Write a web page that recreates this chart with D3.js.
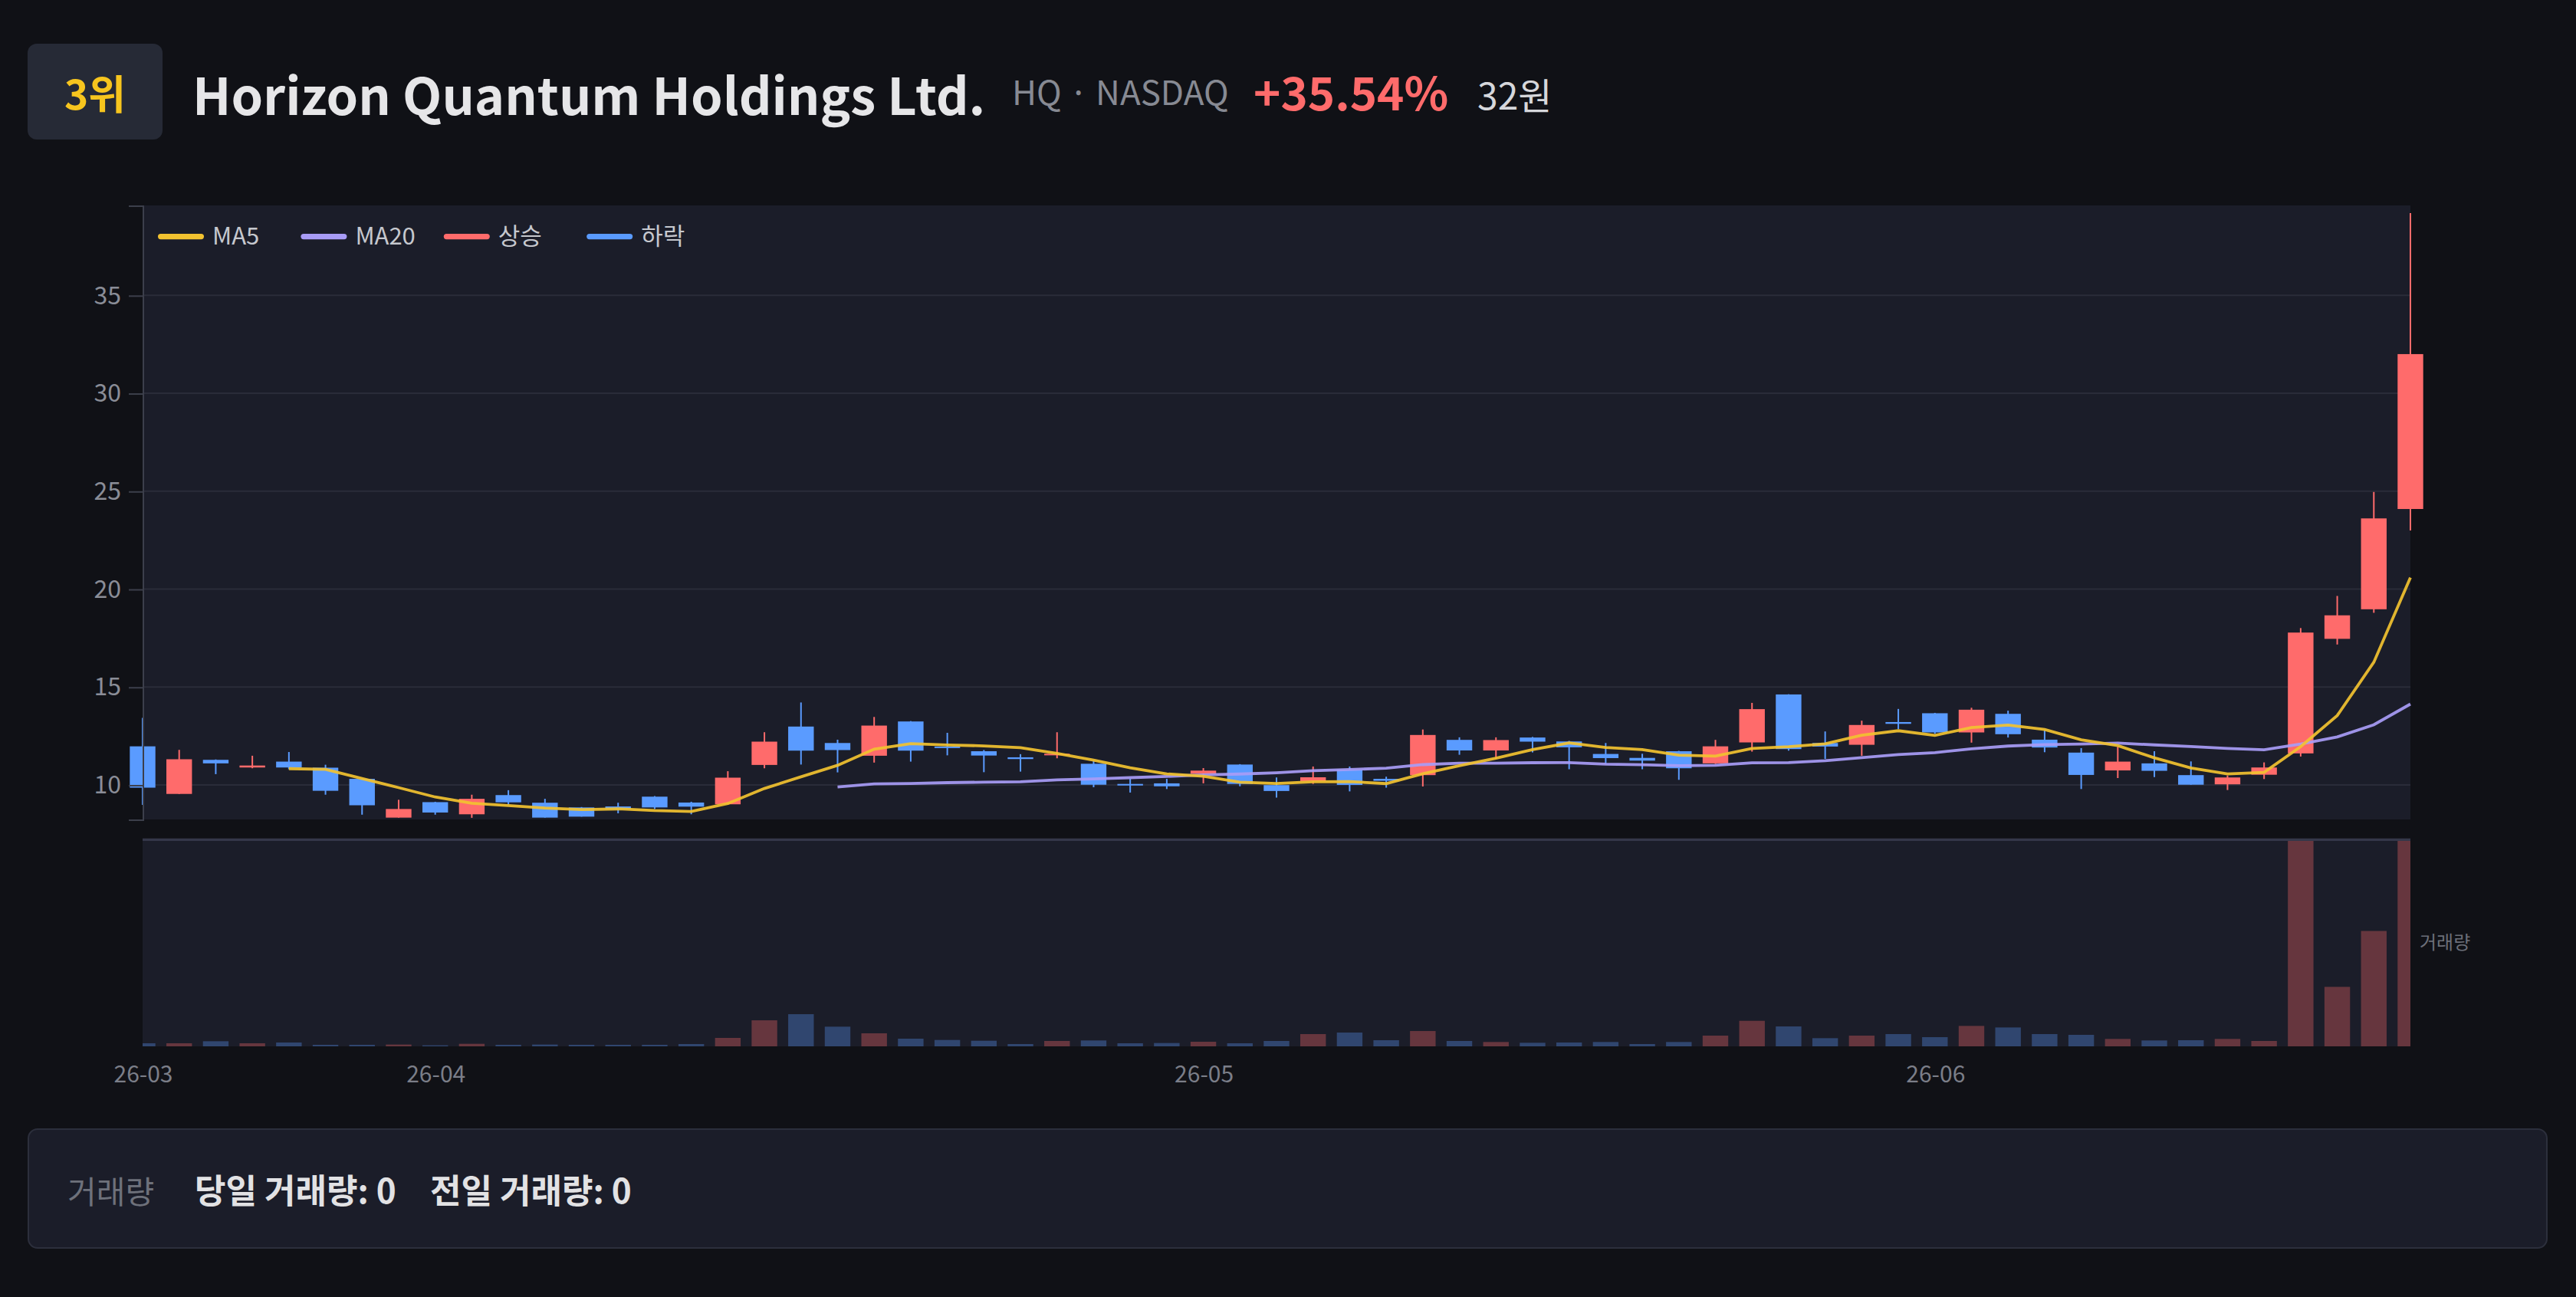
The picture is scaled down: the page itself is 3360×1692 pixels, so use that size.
<!DOCTYPE html>
<html>
<head>
<meta charset="utf-8">
<script src="https://cdn.jsdelivr.net/npm/d3@7"></script>
<style>
  html, body { margin: 0; padding: 0; background: #101116; }
  svg { display: block; font-family: "Noto Sans CJK KR", "Noto Sans", sans-serif; }
</style>
</head>
<body>
<svg id="chart" width="3360" height="1692" viewBox="0 0 1680 846"></svg>
<script>
// trading days shown on the chart
const dates = [
    "2026-03-20", "2026-03-23", "2026-03-24", "2026-03-25", "2026-03-26", "2026-03-27", "2026-03-30", "2026-03-31",
    "2026-04-01", "2026-04-02", "2026-04-06", "2026-04-07", "2026-04-08", "2026-04-09", "2026-04-10",
    "2026-04-13", "2026-04-14", "2026-04-15", "2026-04-16", "2026-04-17",
    "2026-04-20", "2026-04-21", "2026-04-22", "2026-04-23", "2026-04-24",
    "2026-04-27", "2026-04-28", "2026-04-29", "2026-04-30",
    "2026-05-01", "2026-05-04", "2026-05-05", "2026-05-06", "2026-05-07", "2026-05-08",
    "2026-05-11", "2026-05-12", "2026-05-13", "2026-05-14", "2026-05-15",
    "2026-05-18", "2026-05-19", "2026-05-20", "2026-05-21", "2026-05-22",
    "2026-05-26", "2026-05-27", "2026-05-28", "2026-05-29",
    "2026-06-01", "2026-06-02", "2026-06-03", "2026-06-04", "2026-06-05",
    "2026-06-08", "2026-06-09", "2026-06-10", "2026-06-11", "2026-06-12",
    "2026-06-15", "2026-06-16", "2026-06-17", "2026-06-18"
];
const openPrices = [
    11.97, 9.54, 11.28, 10.89, 11.19, 10.88, 10.31, 8.33, 9.12, 8.50, 9.48, 9.09, 8.85, 8.90, 9.40, 9.10,
    9.01, 11.02, 12.98, 12.14, 11.49, 13.24, 11.96, 11.72, 11.41, 11.52, 11.08, 10.05, 10.08, 10.57, 11.04, 9.99,
    10.18, 10.78, 10.31, 10.50, 12.30, 11.76, 12.42, 12.22, 11.58, 11.38, 11.72, 11.10, 12.17, 14.62, 12.14, 12.05,
    13.21, 13.66, 12.68, 13.63, 12.31, 11.65, 10.74, 11.10, 10.50, 10.03, 10.52, 11.61, 17.46, 18.97, 24.09
];
const highPrices = [
    13.42, 11.79, 11.30, 11.49, 11.68, 11.03, 10.33, 9.24, 9.14, 9.50, 9.73, 9.29, 8.87, 9.09, 9.43, 9.14,
    10.70, 12.69, 14.21, 12.31, 13.47, 13.26, 12.66, 11.78, 11.57, 12.69, 11.25, 10.31, 10.31, 10.86, 11.06, 10.38,
    10.94, 10.94, 10.42, 12.83, 12.43, 12.43, 12.45, 12.25, 12.14, 11.59, 11.74, 12.30, 14.19, 14.63, 12.73, 13.28,
    13.88, 13.68, 13.94, 13.79, 12.80, 11.88, 11.95, 11.72, 11.20, 10.48, 11.15, 18.01, 19.65, 24.96, 39.20
];
const lowPrices = [
    8.98, 9.54, 10.55, 10.85, 10.80, 9.50, 8.48, 8.33, 8.48, 8.32, 9.01, 8.33, 8.38, 8.55, 8.77, 8.50,
    8.99, 10.85, 11.04, 10.64, 11.14, 11.19, 11.51, 10.65, 10.68, 11.36, 9.88, 9.61, 9.79, 10.08, 9.93, 9.35,
    10.05, 9.67, 9.86, 9.92, 11.54, 11.33, 11.66, 10.80, 11.07, 10.80, 10.26, 11.07, 11.70, 11.75, 11.33, 11.49,
    12.85, 12.61, 12.16, 12.42, 11.67, 9.79, 10.35, 10.40, 10.01, 9.74, 10.30, 11.45, 17.17, 18.79, 22.99
];
const closePrices = [
    9.86, 11.31, 11.10, 10.99, 10.89, 9.70, 8.96, 8.77, 8.59, 9.29, 9.11, 8.33, 8.38, 8.77, 8.85, 8.89,
    10.37, 12.21, 11.75, 11.78, 13.03, 11.75, 11.90, 11.50, 11.32, 11.59, 10.01, 9.97, 9.93, 10.73, 10.05, 9.69,
    10.39, 10.00, 10.21, 12.55, 11.76, 12.29, 12.21, 11.92, 11.37, 11.24, 10.85, 11.97, 13.87, 11.83, 11.96, 13.06,
    13.12, 12.68, 13.84, 12.59, 11.91, 10.51, 11.19, 10.72, 10.01, 10.38, 10.89, 17.78, 18.66, 23.61, 32.00
];
// volume in thousands of shares
const volumes = [
    150, 150, 250, 150, 188, 75, 75, 88, 50, 125, 75, 88, 75, 75, 75, 113,
    413, 1275, 1575, 963, 638, 375, 313, 275, 113, 263, 288, 150, 163, 225, 150, 263,
    600, 675, 300, 750, 263, 213, 175, 188, 213, 113, 213, 525, 1250, 975, 400, 525,
    600, 450, 1000, 925, 600, 563, 363, 288, 300, 363, 263, 10060, 2913, 5650, 10060
];

const monthLabels = ["26-03", "26-04", "26-05", "26-06"];
const priceTicks = [10, 15, 20, 25, 30, 35];
const legendNames = ["MA5", "MA20", "상승", "하락"];

const colors = {
    up: "#ff6b6b",
    down: "#5a9bff",
    ma5: "#f2c230",
    ma20: "#a89cf6",
    panel: "#1b1d29",
    grid: "#2a2c39",
    axis: "#3c3f4b",
    tick: "#8a8d97"
};

const candles = dates.map((d, i) => ({
    date: d,
    open: openPrices[i],
    high: highPrices[i],
    low: lowPrices[i],
    close: closePrices[i],
    volume: volumes[i]
}));

function movingAverage(n) {
    return candles.map((d, i) => ({
        date: d.date,
        value: i < n - 1 ? null : d3.mean(candles.slice(i - n + 1, i + 1), c => c.close)
    }));
}

const svg = d3.select("#chart");
const plot = { left: 93, right: 1572, top: 134, bottom: 534.5 };
const vol = { top: 548.5, bottom: 682.5 };

const x = d3.scalePoint().domain(dates).range([plot.left, plot.right]);
const y = d3.scaleLinear()
    .domain([d3.min(lowPrices) * 0.99, d3.max(highPrices) * 1.01])
    .range([plot.bottom, plot.top]);
const yVol = d3.scaleLinear().domain([0, d3.max(volumes)]).range([vol.bottom, vol.top]);
const bodyW = x.step() * 0.7;

// header
svg.append("rect")
    .attr("x", 18).attr("y", 28.5).attr("width", 88).attr("height", 62.5).attr("rx", 6)
    .attr("fill", "#262a36");
svg.append("text")
    .attr("x", 62).attr("y", 71.5).attr("text-anchor", "middle")
    .attr("font-size", 26.5).attr("font-weight", 700).attr("fill", "#f7c51e")
    .text("3위");
svg.append("text")
    .attr("x", 125.5).attr("y", 75)
    .attr("font-size", 33.3).attr("font-weight", 700).attr("fill", "#e6e6e8")
    .text("Horizon Quantum Holdings Ltd.");
svg.append("text")
    .attr("x", 660).attr("y", 68.5)
    .attr("font-size", 22).attr("fill", "#878a93")
    .text("HQ · NASDAQ");
svg.append("text")
    .attr("x", 817.5).attr("y", 72)
    .attr("font-size", 30).attr("font-weight", 700).attr("fill", colors.up)
    .text("+35.54%");
svg.append("text")
    .attr("x", 963.5).attr("y", 71.5)
    .attr("font-size", 24).attr("fill", "#d6d7db")
    .text("32원");

// panels
svg.append("rect")
    .attr("x", plot.left).attr("y", plot.top)
    .attr("width", plot.right - plot.left).attr("height", plot.bottom - plot.top)
    .attr("fill", colors.panel);
svg.append("rect")
    .attr("x", plot.left).attr("y", vol.top - 1.5)
    .attr("width", plot.right - plot.left).attr("height", vol.bottom - vol.top + 1.5)
    .attr("fill", colors.panel);
svg.append("line")
    .attr("x1", plot.left).attr("x2", plot.right)
    .attr("y1", vol.top - 0.8).attr("y2", vol.top - 0.8)
    .attr("stroke", "#343749").attr("stroke-width", 1.6);

svg.append("g")
    .selectAll("line")
    .data(priceTicks)
    .join("line")
    .attr("x1", plot.left).attr("x2", plot.right)
    .attr("y1", d => y(d)).attr("y2", d => y(d))
    .attr("stroke", colors.grid).attr("stroke-width", 1);

// volume bars
svg.append("clipPath").attr("id", "volClip")
    .append("rect")
    .attr("x", plot.left).attr("y", vol.top - 2)
    .attr("width", plot.right - plot.left).attr("height", vol.bottom - vol.top + 2);

svg.append("g")
    .attr("clip-path", "url(#volClip)")
    .selectAll("rect")
    .data(candles)
    .join("rect")
    .attr("x", d => x(d.date) - bodyW / 2)
    .attr("width", bodyW)
    .attr("y", d => yVol(d.volume))
    .attr("height", d => vol.bottom - yVol(d.volume))
    .attr("fill", d => d.close >= d.open ? colors.up : colors.down)
    .attr("fill-opacity", 0.33);

svg.append("text")
    .attr("x", 1578).attr("y", (vol.top + vol.bottom) / 2)
    .attr("dominant-baseline", "middle")
    .attr("font-size", 12).attr("fill", "#6c6f79")
    .text("거래량");

// candles
const candle = svg.append("g")
    .selectAll("g")
    .data(candles)
    .join("g")
    .attr("fill", d => d.close >= d.open ? colors.up : colors.down)
    .attr("stroke", d => d.close >= d.open ? colors.up : colors.down);

candle.append("line")
    .attr("x1", d => x(d.date)).attr("x2", d => x(d.date))
    .attr("y1", d => y(d.high)).attr("y2", d => y(d.low))
    .attr("stroke-width", 1);

candle.append("rect")
    .attr("x", d => x(d.date) - bodyW / 2)
    .attr("width", bodyW)
    .attr("y", d => y(Math.max(d.open, d.close)))
    .attr("height", d => Math.max(1, Math.abs(y(d.open) - y(d.close))))
    .attr("stroke", "none");

// moving averages
const maLine = d3.line()
    .defined(d => d.value !== null)
    .x(d => x(d.date))
    .y(d => y(d.value));

svg.append("path")
    .datum(movingAverage(20))
    .attr("d", maLine)
    .attr("fill", "none").attr("stroke", colors.ma20).attr("stroke-width", 1.9)
    .attr("stroke-opacity", 0.92);
svg.append("path")
    .datum(movingAverage(5))
    .attr("d", maLine)
    .attr("fill", "none").attr("stroke", colors.ma5).attr("stroke-width", 1.9)
    .attr("stroke-opacity", 0.92);

// axes
const yAxis = svg.append("g")
    .attr("transform", `translate(${plot.left},0)`)
    .call(d3.axisLeft(y).tickValues(priceTicks).tickSize(9).tickPadding(5));
yAxis.select(".domain").attr("stroke", colors.axis);
yAxis.selectAll(".tick line").attr("stroke", colors.axis);
yAxis.selectAll(".tick text")
    .attr("fill", colors.tick).attr("font-size", 16)
    .attr("font-family", "'Noto Sans CJK KR', sans-serif");

const monthStarts = monthLabels.map(m => dates.find(d => d.slice(2, 7) === m));
const xAxis = svg.append("g")
    .attr("transform", `translate(0,${vol.bottom})`)
    .call(d3.axisBottom(x).tickValues(monthStarts).tickSize(0).tickPadding(13)
        .tickFormat(d => d.slice(2, 7)));
xAxis.select(".domain").remove();
xAxis.selectAll(".tick text")
    .attr("fill", "#7b7e88").attr("font-size", 15)
    .attr("font-family", "'Noto Sans CJK KR', sans-serif");

// legend
const legendColors = [colors.ma5, colors.ma20, colors.up, colors.down];
const legend = svg.append("g")
    .selectAll("g")
    .data(legendNames)
    .join("g")
    .attr("transform", (d, i) => `translate(${103 + i * 93.2},154.3)`);
legend.append("line")
    .attr("x1", 1.8).attr("x2", 28.2)
    .attr("stroke", (d, i) => legendColors[i])
    .attr("stroke-width", 3.6).attr("stroke-linecap", "round");
legend.append("text")
    .attr("x", 35.5).attr("dy", "0.35em")
    .attr("font-size", 15.5).attr("fill", "#c6c8ce")
    .text(d => d);

// footer
svg.append("rect")
    .attr("x", 18.5).attr("y", 736.5).attr("width", 1642.5).attr("height", 77.5).attr("rx", 6)
    .attr("fill", colors.panel).attr("stroke", "#2c2f3c").attr("stroke-width", 1);
svg.append("text")
    .attr("x", 44).attr("y", 785)
    .attr("font-size", 20.5).attr("fill", "#6e717b")
    .text("거래량");
svg.append("text")
    .attr("x", 127).attr("y", 785)
    .attr("font-size", 22).attr("font-weight", 700).attr("fill", "#e2e2e4")
    .text("당일 거래량: 0");
svg.append("text")
    .attr("x", 280.5).attr("y", 785)
    .attr("font-size", 22).attr("font-weight", 700).attr("fill", "#e2e2e4")
    .text("전일 거래량: 0");
</script>
</body>
</html>
